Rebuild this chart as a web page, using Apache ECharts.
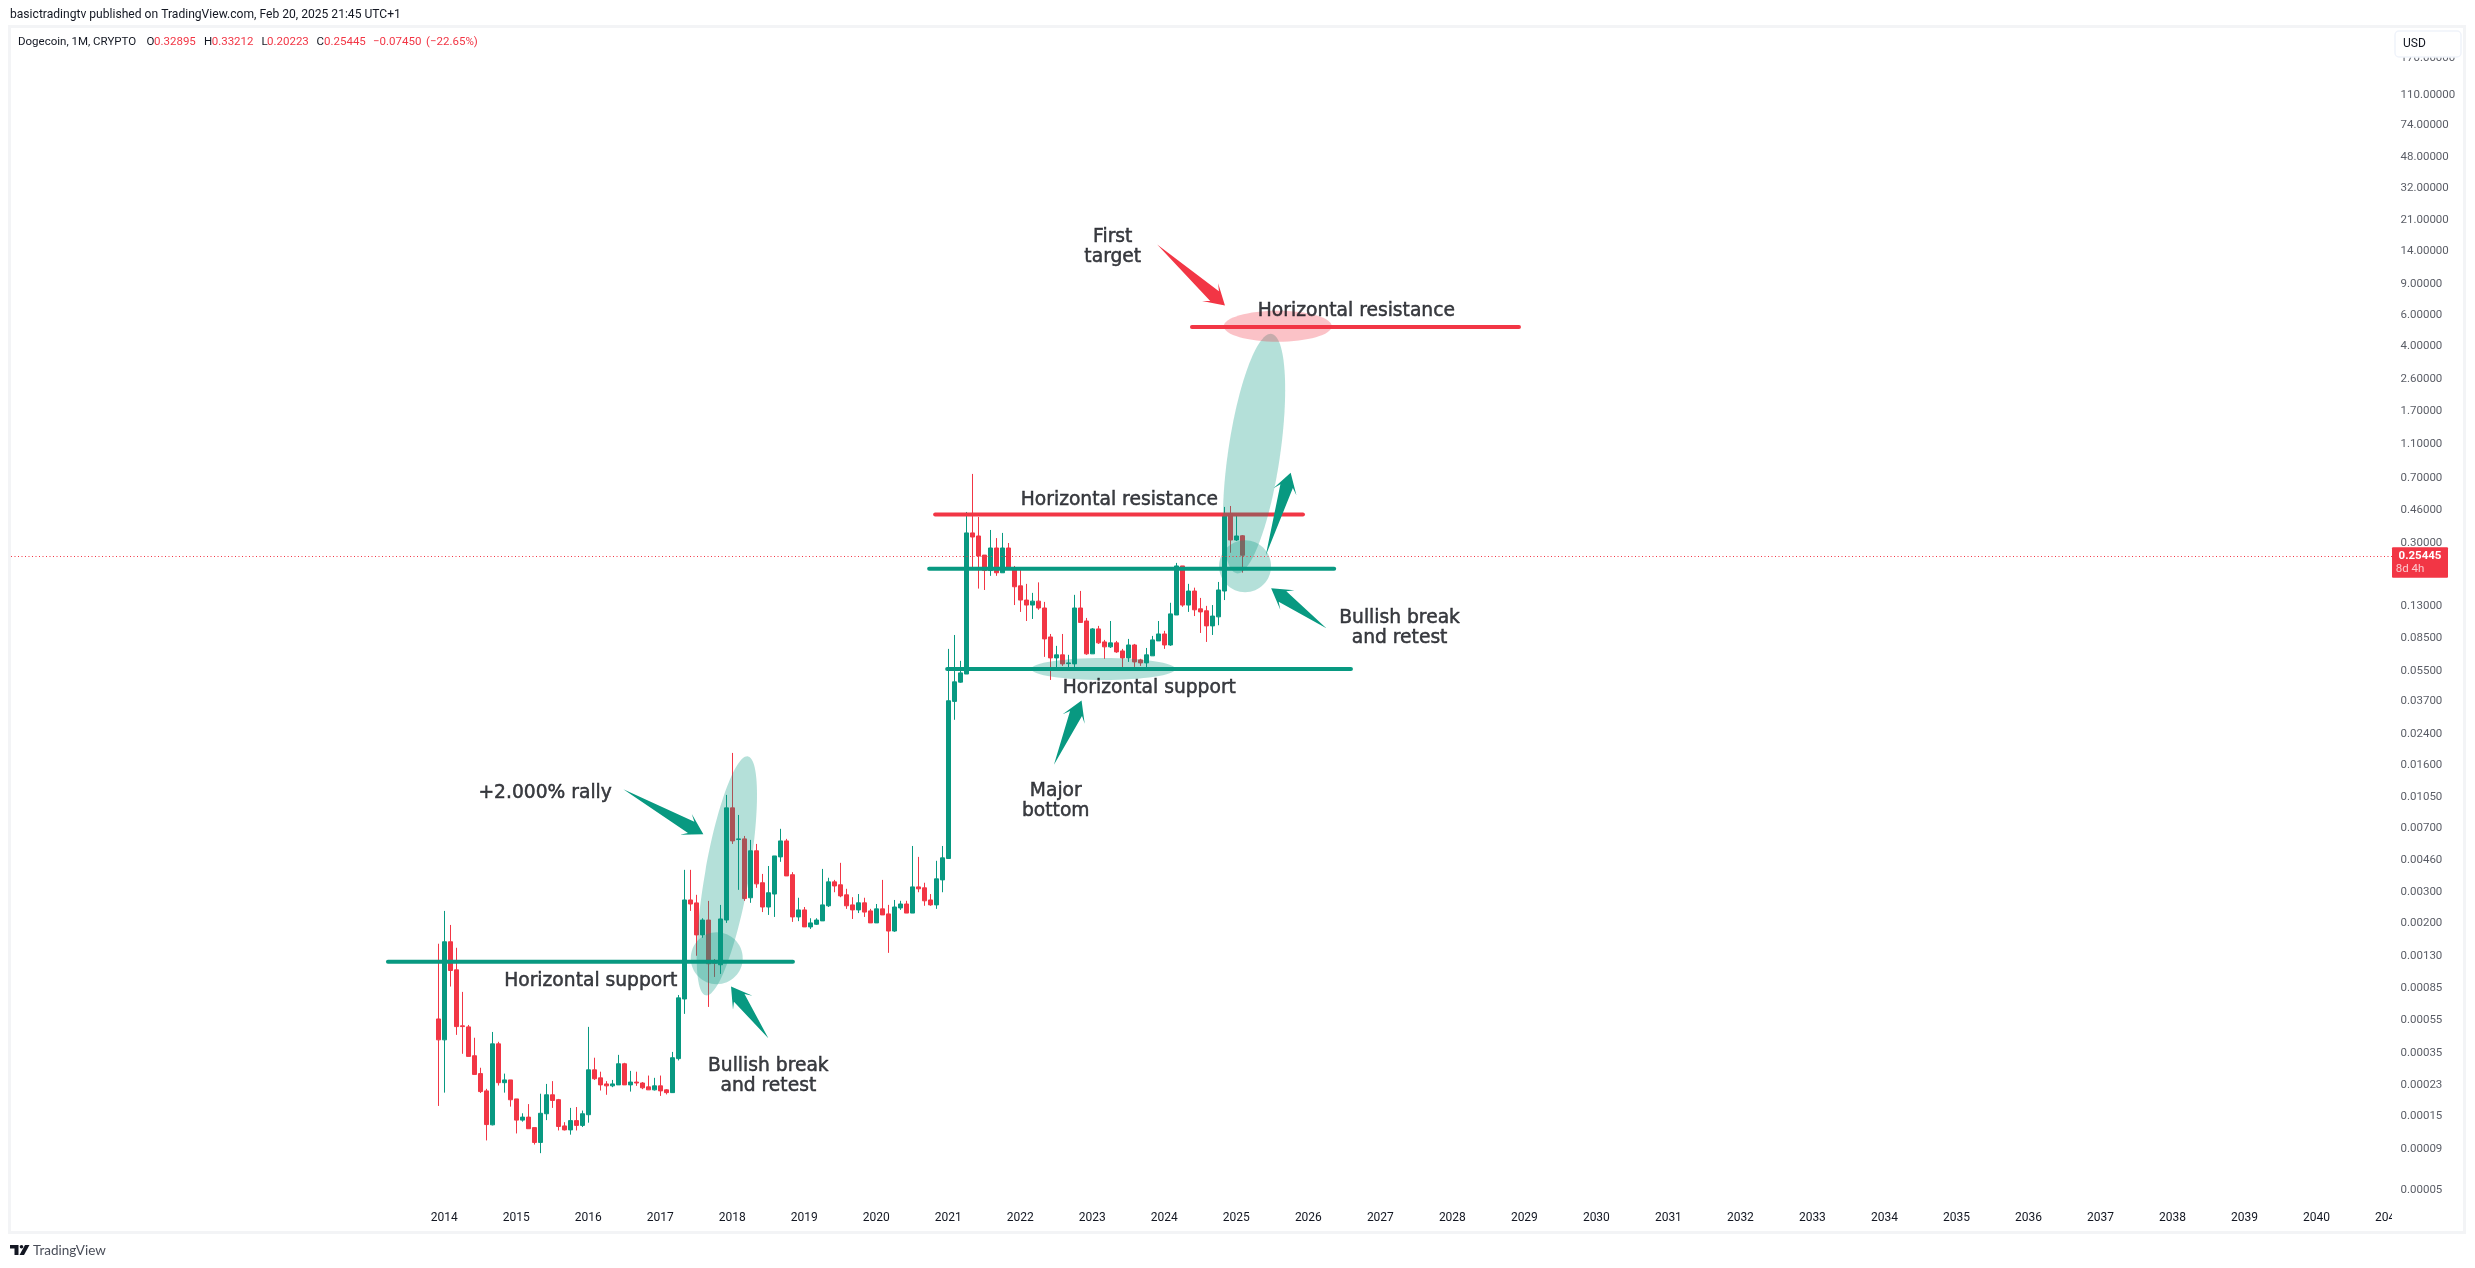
<!DOCTYPE html>
<html>
<head>
<meta charset="utf-8">
<style>html,body{margin:0;padding:0;background:#fff}#c{width:2475px;height:1268px}</style>
<script src="https://cdn.jsdelivr.net/npm/echarts@6/dist/echarts.min.js"></script>
</head>
<body>
<div id="c"></div>
<script>
// Monthly candles from Dec 2013 (index 0) to Feb 2025; prices in 1e-5 USD.
const UNIT = 1e-5;
const opens = [56.5,42.9,156.2,107.9,51.6,50.9,34.8,27.5,21.9,14.0,40.7,24.4,25.3,
19.7,14.9,15.5,13.5,11.1,16.2,20.8,19.5,13.8,13.1,14.8,13.9,
16.0,28.9,26.0,24.0,23.4,23.7,31.3,23.7,24.6,24.3,23.1,22.2,
23.4,22.2,21.4,33.5,73.5,271,260.7,171,208,120.5,115.4,208,
912,601,606,279,518,340,247,293,478,590,378,216.7,
237.7,190,196.8,205.7,251,344,331,290,254,237.7,261,234.6,
200.3,241,225.5,180,244,257,228,322,318,271,254,353,
468,3710,4780,5320,34150,32800,25500,20800,28000,20200,28000,21500,
17000,14100,13200,13900,12700,8670,6580,6850,6100,6080,12700,10700,
6940,9640,8120,7610,8020,7210,6580,7800,6410,6160,6760,8230,
9020,7800,11580,22100,13200,15880,12560,12240,10030,11300,15880,42700,
31100,32895];
const highs = [152.2,234.6,195,144.3,80.7,52.2,44.1,29.7,22.5,47.6,41.8,27.5,25.3,
19.7,16.3,18.4,13.5,21.1,24.0,24.9,19.7,14.5,17.5,17.7,16.9,
50.9,33.9,28.2,24.9,25.3,35.2,31.7,28.5,28.2,24.6,26.8,26,
26.8,22.4,36.6,77.5,403,403,290,213,267.7,124.5,253.9,1082,
1881,831,630,598,567,382,424,484,692,606,391,279,
247,213,213,408,363,353,442,314,281,293,279,241,
257,353,254,271,268,268,552,478,340,293,454,552,
7410,8900,6330,45000,74300,42160,25500,35500,31900,34150,29900,22100,
21500,17450,15500,17800,13760,9020,7710,9020,6850,15100,15900,11140,
9750,10030,8340,10700,8230,7410,8450,7910,6500,7500,8790,10700,
9400,13600,23000,22100,17450,16600,14500,13060,13200,17900,48100,48700,
43900,33212];
const lows = [17.96,21.4,86.6,45.8,35.7,34.5,27.2,21.3,11.4,13.9,23.5,21.4,17.8,
12.5,14.6,13.3,10.8,9.64,14.9,17.5,13.0,13.0,12.3,13.0,13.6,
14.4,25.3,22.0,20.8,23.0,23.7,23.7,21.7,23.4,22.4,22.2,22,
20.5,20.9,21.3,32.7,60.4,234.6,129.9,164.7,66.2,98.3,102.3,200.3,
567,309.6,267.7,261,318,231,222.5,216.7,448,372,203,205,
190,185,195,205.7,247,300,281,241,211,228,216.7,200.3,
200.3,222.5,135,178,237.7,228,228,300,251,251,241,300,
468,2910,4740,5320,21500,16400,16100,19400,19400,20200,21000,13200,
12060,10700,10990,12400,6670,4920,5720,5920,5720,5690,10500,6850,
6940,7910,6500,7500,7030,5620,6240,5840,5920,5720,6760,8230,
7410,7710,11580,12900,12060,11420,9140,8120,8900,10120,14100,26300,
30700,20223];
const closes = [42.9,156.2,107,51.1,51.1,34.5,27.2,21.7,14.05,40.7,24.4,25.3,19.48,
14.9,15.5,13.3,11.1,16.3,20.8,19.3,13.7,13.1,14.8,13.9,16.2,
28.9,25.7,23.7,23.4,24.0,31.3,23.7,24.6,24.3,22.8,22.2,23.4,
21.9,21.4,33.9,74.6,271,257,171,208,116.9,117.9,211,912,
590,606,276,518,335,247,298,484,590,372,216.7,237.7,
190,200.3,208,254,344,326,286,251,237.7,261,231,200.3,
241,222.5,180,247,257,228,322,314,268,254,358,472,
3740,4800,5400,34150,32360,25200,20800,28000,20200,28000,21300,16800,
14100,13200,13900,12700,8450,6580,6850,6080,6160,12700,10500,6940,
9640,8020,7610,8020,7120,6580,7800,6240,6160,6850,8340,9020,
7800,11750,22100,13200,15880,12400,12060,10030,11420,16100,42700,31100,
32800,25445];

// Price-axis ticks: where each tick sits, and the text it shows.
const yTickPrices = [178,110,74,48,32,21,14,9,6,4,2.6,1.7,1.1,0.7,0.46,0.3,0.2,0.13,0.085,0.055,0.037,0.024,0.016,0.0105,0.007,0.0046,0.003,0.002,0.0013,0.00085,0.00056,0.00036,0.000237,0.000158,0.000101,0.000059];
const yTickLabels = ['170.00000','110.00000','74.00000','48.00000','32.00000','21.00000','14.00000','9.00000','6.00000','4.00000','2.60000','1.70000','1.10000','0.70000','0.46000','0.30000','0.20000','0.13000','0.08500','0.05500','0.03700','0.02400','0.01600','0.01050','0.00700','0.00460','0.00300','0.00200','0.00130','0.00085','0.00055','0.00035','0.00023','0.00015','0.00009','0.00005'];
const xYears = [2014,2015,2016,2017,2018,2019,2020,2021,2022,2023,2024,2025,2026,2027,2028,2029,2030,2031,2032,2033,2034,2035,2036,2037,2038,2039,2040,2041];

// Drawings in chart units: [month index, price, ...]
const greenLines = [[[-8.4,0.0012],[59.1,0.0012]],[[81.8,0.213],[149.3,0.213]],[[84.8,0.0569],[152.1,0.0569]]];
const redLines = [[[82.8,0.435],[144.1,0.435]],[[125.6,5.15],[180.1,5.15]]];
// [centre month, centre price, axis-end month, axis-end price, half-width in months]
const greenEllipses = [[48.1,0.003723,51.6,0.01797,3.67],[46.4,0.001258,50.73,0.001258,4.33],[110.83,0.0569,122.83,0.0569,1.83],[135.95,0.9707,138.87,4.70,4.33],[134.45,0.2202,138.78,0.2202,4.33]];
const redEllipses = [[139.9,5.2,148.9,5.2,2.58]];
// [tail month, tail price, tip month, tip price]
const greenArrows = [[30.83,0.01166,44.17,0.00645],[55.0,0.000438,48.78,0.000866],[102.6,0.01607,107.2,0.03748],[148.0,0.0973,138.8,0.1648],[137.9,0.2532,142.05,0.7557]];
const redArrows = [[119.8,15.26,131.1,6.83]];
const notes = [[17.8,0.0113,'+2.000% rally'],[25.4,0.000954,'Horizontal support'],[55.0,0.00027,'Bullish break\nand retest'],[118.5,0.0451,'Horizontal support'],[113.5,0.5395,'Horizontal resistance'],[153.0,6.45,'Horizontal resistance'],[112.4,14.98,'First\ntarget'],[102.9,0.01013,'Major\nbottom'],[160.2,0.0995,'Bullish break\nand retest']];

const UP = '#089981', DOWN = '#F23645', INK = '#131722';
const X_MIN = -71.22, X_MAX = 325.6, Y_MIN = 4.68e-5, Y_MAX = 264.7;
const lastPrice = closes[closes.length - 1] * UNIT;

const candles = opens.map((o, i) => [i, o * UNIT, closes[i] * UNIT, lows[i] * UNIT, highs[i] * UNIT]);

function lineSeries(pts, color) {
  return {type:'line', data:pts, symbol:'none', silent:true, z:3, clip:false,
    lineStyle:{color:color, width:4, cap:'round'}};
}
function ellipseSeries(rows, fill) {
  return {type:'custom', data:rows, silent:true, z:4, clip:false, encode:{x:[0,2],y:[1,3]},
    renderItem:function(p, api){
      const c = api.coord([api.value(0), api.value(1)]);
      const e = api.coord([api.value(2), api.value(3)]);
      const w = Math.abs(api.coord([api.value(0)+api.value(4), api.value(1)])[0]-c[0]);
      const a = Math.hypot(e[0]-c[0], e[1]-c[1]);
      return {type:'ellipse', x:c[0], y:c[1], rotation:-Math.atan2(e[1]-c[1], e[0]-c[0]),
        shape:{cx:0,cy:0,rx:a,ry:w}, style:{fill:fill}};
    }};
}
function arrowSeries(rows, fill) {
  return {type:'custom', data:rows, silent:true, z:5, clip:false, encode:{x:[0,2],y:[1,3]},
    renderItem:function(p, api){
      const t = api.coord([api.value(0), api.value(1)]);
      const h = api.coord([api.value(2), api.value(3)]);
      const L = Math.hypot(h[0]-t[0], h[1]-t[1]);
      const ux=(h[0]-t[0])/L, uy=(h[1]-t[1])/L, nx=-uy, ny=ux;
      const at=(back,side)=>[h[0]-ux*back+nx*side, h[1]-uy*back+ny*side];
      return {type:'polygon', shape:{points:[t, at(14,6.5), at(20,12), h, at(20,-12), at(14,-6.5)]}, style:{fill:fill}};
    }};
}

const legendPieces = [[18,'Dogecoin, 1M, CRYPTO',INK],[146.5,'O',INK],[154,'0.32895',DOWN],[204,'H',INK],[211.7,'0.33212',DOWN],[261.5,'L',INK],[267,'0.20223',DOWN],[316.5,'C',INK],[324,'0.25445',DOWN],[373,'\u22120.07450',DOWN],[426,'(\u221222.65%)',DOWN]];
const graphics = [
  {type:'rect', z:90, silent:true, shape:{x:2392,y:1208,width:70,height:24}, style:{fill:'#fff'}},
  {type:'rect', z:91, silent:true, shape:{x:9.5,y:26.5,width:2455,height:1206}, style:{fill:'none',stroke:'#f3f4f6',lineWidth:3}},
  {type:'rect', z:95, silent:true, shape:{x:2395,y:31,width:66,height:26,r:4}, style:{fill:'#fff',stroke:'#f0f3fa',lineWidth:1.5}},
  {type:'text', z:96, silent:true, style:{x:2403,y:44,text:'USD',fill:INK,font:'12px Roboto',verticalAlign:'middle'}},
  {type:'text', z:96, silent:true, style:{x:10,y:15,text:'basictradingtv published on TradingView.com, Feb 20, 2025 21:45 UTC+1',fill:INK,font:'12.1px Roboto',verticalAlign:'middle'}},
  {type:'text', z:96, silent:true, style:{x:33,y:1251,text:'TradingView',fill:'#4a4e59',font:'13.5px Lato',verticalAlign:'middle'}},
  {type:'polygon', z:96, silent:true, shape:{points:[[10,1245],[18.5,1245],[18.5,1255],[14.5,1255],[14.5,1248.5],[10,1248.5]]}, style:{fill:INK}},
  {type:'circle', z:96, silent:true, shape:{cx:21.5,cy:1246.8,r:1.8}, style:{fill:INK}},
  {type:'polygon', z:96, silent:true, shape:{points:[[25,1245],[29.5,1245],[24,1255],[19.5,1255]]}, style:{fill:INK}}
].concat(legendPieces.map(q=>({type:'text', z:96, silent:true, style:{x:q[0],y:41.7,text:q[1],fill:q[2],font:'11.5px Roboto',verticalAlign:'middle'}})));

const series = [
  {type:'candlestick', data:candles, barWidth:4, z:2, clip:false,
   itemStyle:{color:UP,color0:DOWN,borderColor:UP,borderColor0:DOWN,borderColorDoji:DOWN,borderWidth:1},
   markLine:{symbol:'none',silent:true,animation:false,z:6,label:{show:false},
     lineStyle:{color:DOWN,type:[1,2.5],width:1},data:[{yAxis:lastPrice}]}}
];
greenLines.forEach(l=>series.push(lineSeries(l,UP)));
redLines.forEach(l=>series.push(lineSeries(l,DOWN)));
series.push(ellipseSeries(greenEllipses,'rgba(8,153,129,0.3)'));
series.push(ellipseSeries(redEllipses,'rgba(242,54,69,0.3)'));
series.push(arrowSeries(greenArrows,UP));
series.push(arrowSeries(redArrows,DOWN));
series.push({type:'scatter', data:notes, silent:true, z:7, symbolSize:1, clip:false, itemStyle:{color:'transparent'},
  label:{show:true, position:'inside', align:'center', verticalAlign:'middle', offset:[0,1.5], formatter:p=>p.value[2],
    fontFamily:'DejaVu Sans', fontSize:18.7, lineHeight:20, color:'#0b0e14', textBorderColor:'#0b0e14', textBorderWidth:0.5}});
series.push({type:'scatter', data:yTickPrices.map((v,i)=>[X_MAX,v,yTickLabels[i]]), silent:true, z:10, symbolSize:1, clip:false, itemStyle:{color:'transparent'},
  label:{show:true, position:'right', distance:8, formatter:p=>p.value[2], fontFamily:'Roboto', fontSize:11.5, color:'#2f333e'}});
series.push({type:'custom', data:[[X_MAX,lastPrice]], silent:true, z:20, clip:false,
  renderItem:function(p, api){
    const c = api.coord([api.value(0), api.value(1)]);
    return {type:'group', children:[
      {type:'rect', shape:{x:c[0],y:c[1]-8,width:56,height:30.4,r:1}, style:{fill:DOWN}},
      {type:'text', style:{x:c[0]+28,y:c[1]+1,text:lastPrice.toFixed(5),fill:'#fff',font:'bold 11.5px Roboto',align:'center',verticalAlign:'middle'}},
      {type:'text', style:{x:c[0]+18,y:c[1]+14,text:'8d 4h',fill:'#fbc9cd',font:'11.5px Roboto',align:'center',verticalAlign:'middle'}}
    ]};
  }});

const chart = echarts.init(document.getElementById('c'));
chart.setOption({
  animation:false,
  backgroundColor:'#fff',
  grid:{left:11, top:28, width:2381, height:1180},
  tooltip:{show:false},
  xAxis:{type:'value', min:X_MIN, max:X_MAX, splitLine:{show:false}, axisLine:{show:false}, axisTick:{show:false},
    axisLabel:{customValues:xYears.map(y=>1+12*(y-2014)), margin:4, formatter:v=>String(2014+Math.round((v-1)/12)),
      fontFamily:'Roboto', fontSize:12, color:INK}},
  yAxis:{type:'log', logBase:10, min:Y_MIN, max:Y_MAX, position:'right', splitLine:{show:false}, axisLine:{show:false}, axisTick:{show:false}, axisLabel:{show:false}},
  graphic:{elements:graphics},
  series:series
});
</script>
</body>
</html>
